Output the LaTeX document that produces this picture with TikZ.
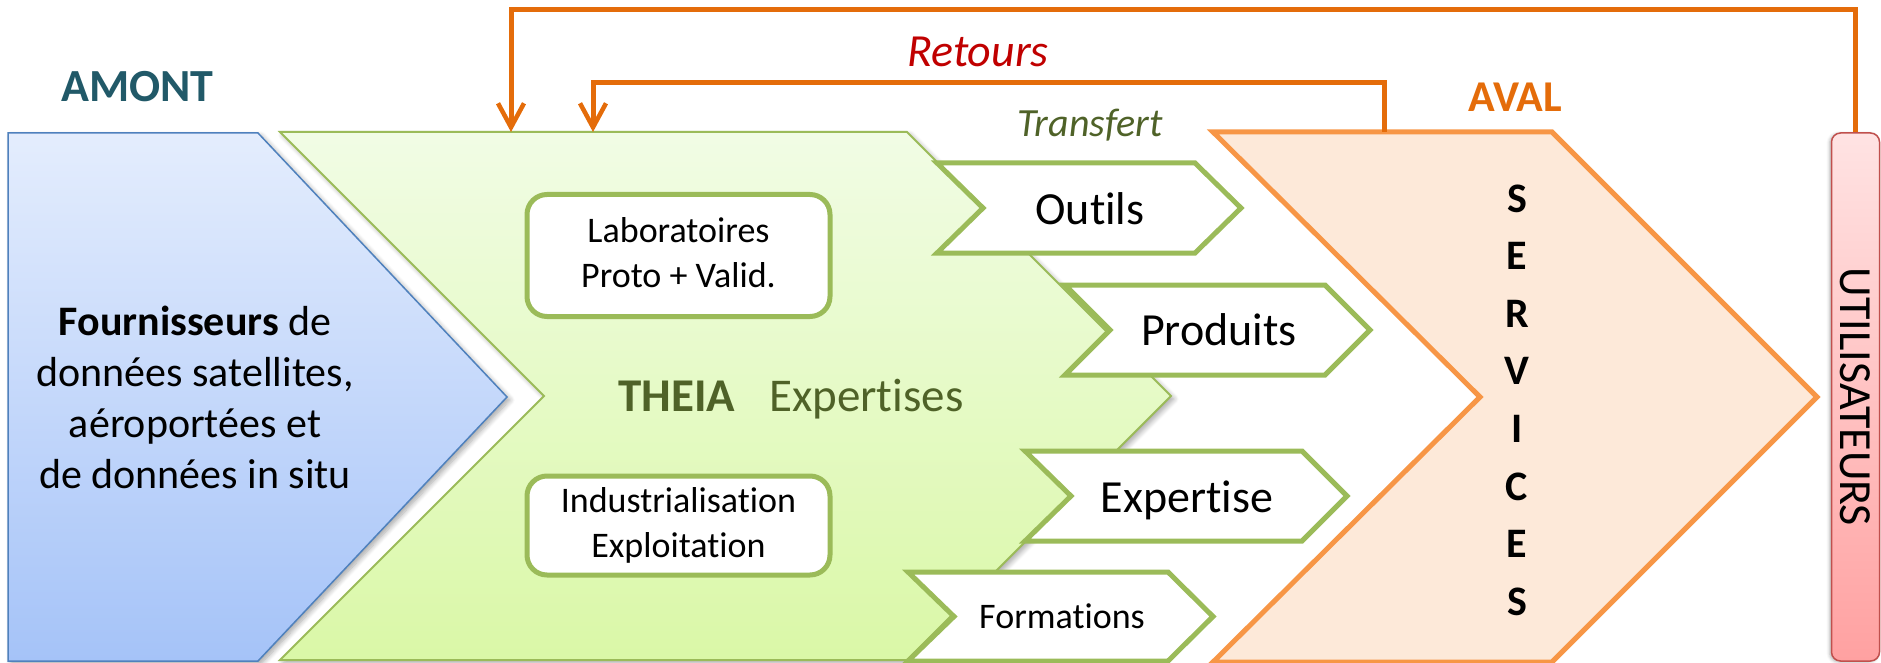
\documentclass[tikz,border=0pt]{standalone}
\usepackage{fontspec}
\setmainfont{Carlito}[Ligatures={NoCommon}, RawFeature={-liga;-clig;-dlig}]
\usetikzlibrary{arrows.meta,shadows.blur}

\definecolor{amontTeal}{HTML}{215968}
\definecolor{avalOrange}{HTML}{E46C0A}
\definecolor{oliveText}{HTML}{4F6228}
\definecolor{retRed}{HTML}{C00000}
\definecolor{blueTop}{HTML}{E4EDFD}
\definecolor{blueBot}{HTML}{A5C3F8}
\definecolor{blueLine}{HTML}{4F81BD}
\definecolor{greenTop}{HTML}{F1FCE5}
\definecolor{greenBot}{HTML}{DAF8A7}
\definecolor{greenLine}{HTML}{9BBB59}
\definecolor{peach}{HTML}{FDE9D9}
\definecolor{peachLine}{HTML}{F79646}
\definecolor{pinkTop}{HTML}{FFE3E3}
\definecolor{pinkBot}{HTML}{FFA1A1}
\definecolor{pinkLine}{HTML}{C0504D}

\newcommand{\fsz}[2]{\fontsize{#1pt}{#2pt}\selectfont}

\tikzset{
  softshadow/.style={blur shadow={shadow xshift=3pt, shadow yshift=-3pt,
      shadow blur radius=5pt, shadow blur steps=8, shadow opacity=35}},
  amontshape/.style={draw=blueLine, line width=1.5pt, top color=blueTop,
      bottom color=blueBot, softshadow},
  theiashape/.style={draw=greenLine, line width=2pt, top color=greenTop,
      bottom color=greenBot, softshadow},
  avalshape/.style={draw=peachLine, line width=5pt, fill=peach, line join=miter},
  transfertbox/.style={draw=greenLine, line width=5pt, fill=white, line join=miter},
  labbox/.style={draw=greenLine, line width=5pt, fill=white, rounded corners=20pt,
      minimum width=303pt, inner sep=0pt, font=\fsz{36}{45}},
  utilbox/.style={draw=pinkLine, line width=1.5pt, top color=pinkTop,
      bottom color=pinkBot, rounded corners=9pt, minimum width=48pt,
      minimum height=528pt, inner sep=0pt, font=\fsz{46}{55},
      blur shadow={shadow xshift=-2pt, shadow yshift=-1pt,
      shadow blur radius=3pt, shadow opacity=30}},
  boxlabel/.style={anchor=base, inner sep=0pt, font=\fsz{46}{55}},
  retour/.style={draw=avalOrange, line width=5pt,
      -{Straight Barb[length=24pt, width=26pt, line width=4.5pt]}},
}

\begin{document}
\begin{tikzpicture}[x=1pt, y=-1pt]
\useasboundingbox (0,0) rectangle (1881,663);

% upstream data providers
\path[amontshape] (8,133) -- (258,133) -- (507,397) -- (258,661) -- (8,661) -- cycle;
\node[anchor=base, inner sep=0pt, font=\fsz{42}{51}] (fourn) at (195,335)
  {\begin{tabular}[t]{@{}c@{}}\textbf{Fournisseurs} de\\ données satellites,\\
   aéroportées et\\ de données in situ\end{tabular}};
\node[anchor=base, inner sep=0pt, font=\fsz{46}{55}\bfseries, text=amontTeal]
  (amont) at (137.5,102) {AMONT};

% THEIA chevron
\path[theiashape] (280,132) -- (907,132) -- (1171,396) -- (907,660) -- (280,660)
  -- (544,396) -- cycle;
\node[labbox, minimum height=122pt] (labo) at (678.5,255.5)
  {\begin{tabular}{@{}c@{}}Laboratoires\\ Proto + Valid.\end{tabular}};
\node[labbox, minimum height=99pt] (indus) at (678.5,525.5)
  {\begin{tabular}{@{}c@{}}Industrialisation\\ Exploitation\end{tabular}};
\node[anchor=base west, inner sep=0pt, font=\fsz{47}{56}, text=oliveText]
  (theia) at (618,411) {\textbf{THEIA}\hspace{34pt}Expertises};

% transfer arrows
\path[transfertbox] (937,163) -- (1195,163) -- (1241,208) -- (1195,253) -- (937,253)
  -- (983,208) -- cycle;
\path[transfertbox] (1065,285) -- (1325,285) -- (1370,330) -- (1325,375)
  -- (1065,375) -- (1110,330) -- cycle;
\path[transfertbox] (1025,451) -- (1302,451) -- (1347,496) -- (1302,541)
  -- (1025,541) -- (1071,496) -- cycle;
\path[transfertbox] (908,572) -- (1168,572) -- (1213,616.5) -- (1168,661)
  -- (908,661) -- (954,616.5) -- cycle;
\node[boxlabel] (outils) at (1090,225) {Outils};
\node[boxlabel] (produits) at (1219,345) {Produits};
\node[boxlabel] (expertise) at (1187,512) {Expertise};
\node[boxlabel, font=\fsz{36}{45}] (formations) at (1062,628) {Formations};
\node[anchor=base, inner sep=0pt, font=\fsz{40}{48}\itshape, text=oliveText]
  (transfert) at (1090,137) {Transfert};

% downstream services
\path[avalshape] (1213,132) -- (1552,132) -- (1817,397) -- (1552,662) -- (1213,662)
  -- (1480,397) -- cycle;
\node[anchor=base, inner sep=0pt, font=\fsz{42}{57.6}\bfseries] (services) at (1517,212)
  {\begin{tabular}[t]{@{}c@{}}S\\E\\R\\V\\I\\C\\E\\S\end{tabular}};
\node[anchor=base, inner sep=0pt, font=\fsz{44}{53}\bfseries, text=avalOrange]
  (aval) at (1515.5,112) {AVAL};

% end users
\node[utilbox] (util) at (1855.5,397) {\rotatebox{-90}{UTILISATEURS}};

% feedback loops
\coordinate (retA) at (511,132);
\coordinate (retB) at (593,132);
\coordinate (avalTop) at (1384,132);
\draw[retour] (util.north) -- ++(0,-123) -| (retA);
\draw[retour] (avalTop) -- ++(0,-49) -| (retB);
\node[anchor=base, inner sep=0pt, font=\fsz{46}{55}\itshape, text=retRed]
  (retours) at (978,67) {Retours};
\end{tikzpicture}
\end{document}
